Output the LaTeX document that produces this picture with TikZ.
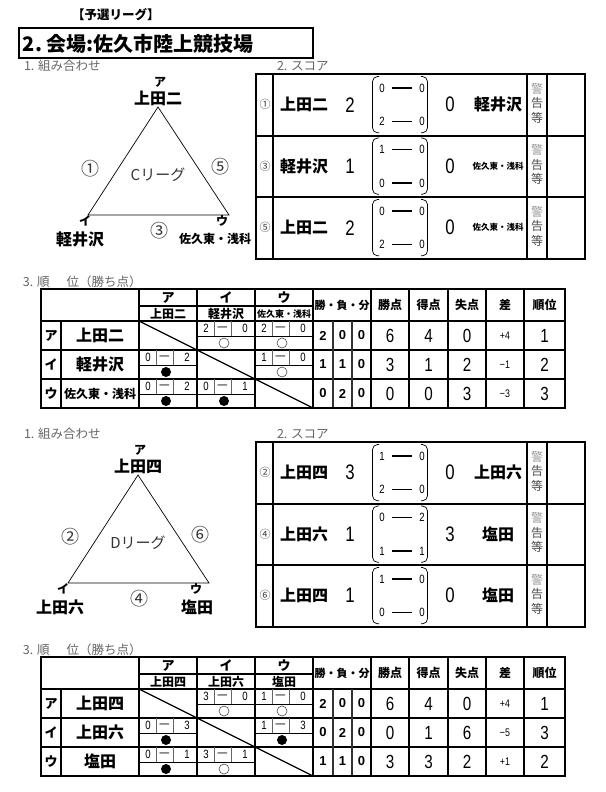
\documentclass[tikz,border=0pt]{standalone}
\usepackage{fontspec}
\setmainfont{Noto Sans CJK JP}
\newfontfamily\nar{Liberation Sans}[FakeStretch=0.8]
\newfontfamily\lib{Liberation Sans}
\newcommand\fs[1]{\fontsize{#1}{#1}\selectfont}
\tikzset{
  every node/.style={inner sep=0pt, outer sep=0pt},
  lbl/.style={anchor=west, font=\fs{12.5}, text=black!60},
  kana/.style={font=\fs{12}\bfseries},
  tname/.style={font=\fs{16}\bfseries},
  tsmall/.style={font=\fs{12}\bfseries},
  cnum/.style={font=\fs{18}, text=black!80},
  lg/.style={font=\fs{15}, text=black!80},
  triline/.style={line width=0.7},
  frame2/.style={line width=2},
  inline/.style={line width=1.5},
  rnum/.style={font=\fs{11}, text=black!75},
  sname/.style={font=\fs{16}\bfseries},
  sname8/.style={font=\fs{8.5}\bfseries},
  bigd/.style={font=\nar\fs{21}},
  smd/.style={font=\nar\fs{12}},
  warn/.style={font=\fs{12}, text=black!70},
  brk/.style={line width=0.7, rounded corners=5pt},
  dashbar/.style={line width=1.8},
  hd/.style={font=\fs{12}\bfseries},
  hdw/.style={font=\fs{11}\bfseries},
  hdk/.style={font=\fs{13}\bfseries},
  hds/.style={font=\fs{9}\bfseries},
  cs/.style={font=\nar\fs{12}},
  mkw/.style={circle, draw=black!70, line width=0.6, minimum size=10pt},
  mkl/.style={circle, fill=black, minimum size=10pt},
  wld/.style={font=\lib\bfseries\fs{13}},
  stat/.style={font=\nar\fs{19}},
  diffs/.style={font=\nar\fs{11}},
}
\newcommand\ScoreGrid{%
  \draw[frame2] (256,74) rectangle (585,259);
  \draw[frame2] (256,135.5) -- (585,135.5) (256,197) -- (585,197);
  \draw[frame2] (273,74) -- (273,259) (527,74) -- (527,259) (547,74) -- (547,259);
}
\newcommand\ScoreRow[8]{%
  \node[rnum] (#1-n) at (265,#2+30.7) {#3};
  \node[sname] (#1-a) at (304,#2+30.7) {#4};
  \node[bigd] (#1-sa) at (350,#2+30.7) {#5};
  \node[bigd] (#1-sb) at (450,#2+30.7) {#6};
  \node[#8] (#1-b) at (498,#2+30.7) {#7};
  \node[warn, text=black!40] (#1-w1) at (537,#2+14.5) {警};
  \node[warn] (#1-w2) at (537,#2+29) {告};
  \node[warn] (#1-w3) at (537,#2+43.5) {等};
}
\newcommand\Bracket[6]{%
  \draw[brk] (379,#2+2.5) -- (372.5,#2+2.5) -- (372.5,#2+58.8) -- (379,#2+58.8);
  \draw[brk] (421,#2+2.5) -- (427.5,#2+2.5) -- (427.5,#2+58.8) -- (421,#2+58.8);
  \node[smd] (#1-p) at (382,#2+14) {#3};
  \node[smd] (#1-q) at (422,#2+14) {#4};
  \node[smd] (#1-r) at (382,#2+47.5) {#5};
  \node[smd] (#1-s) at (422,#2+47.5) {#6};
  \draw[dashbar] ([xshift=10pt]#1-p.center) -- ([xshift=-10pt]#1-q.center);
  \draw[dashbar] ([xshift=10pt]#1-r.center) -- ([xshift=-10pt]#1-s.center);
}
\newcommand\StandGrid{%
  \draw[inline] (139,306) -- (313,306);
  \draw[inline] (41,321) -- (565,321) (41,350) -- (565,350) (41,379) -- (565,379);
  \draw[inline] (61,321) -- (61,408);
  \foreach \x in {139,197,255,313,371,409,448,486,524} \draw[inline] (\x,289) -- (\x,408);
  \foreach \x in {333,352} \draw[line width=1.2, black!80] (\x,321) -- (\x,408);
  \draw[line width=2.2] (41,289) rectangle (565,408);
  \draw[line width=1.3] (139,321) -- (313,408);
}
\newcommand\StandCell[6]{%
  \draw[line width=0.8] (#2,#3+15) -- (#2+58,#3+15);
  \draw[line width=0.5, black!60] (#2+17,#3) -- (#2+17,#3+15) (#2+34,#3) -- (#2+34,#3+15);
  \node[cs] (#1-a) at (#2+9,#3+7.5) {#4};
  \node[cs] (#1-d) at (#2+25.5,#3+7.5) {—};
  \node[cs] (#1-b) at (#2+48,#3+7.5) {#5};
  \node[mk#6] (#1-m) at (#2+27,#3+22) {};
}
\newcommand\StandValues[2]{%
  \foreach \i/\t/\w/\l/\d/\p/\f/\a/\s/\k in {#2} {
    \node[wld] (#1-wv\i) at (323,\t) {\w};
    \node[wld] (#1-lv\i) at (342.5,\t) {\l};
    \node[wld] (#1-dv\i) at (361.5,\t) {\d};
    \node[stat] (#1-pt\i) at (390,\t) {\p};
    \node[stat] (#1-gf\i) at (428.5,\t) {\f};
    \node[stat] (#1-ga\i) at (467,\t) {\a};
    \node[diffs] (#1-df\i) at (505,\t) {\s};
    \node[stat] (#1-rk\i) at (544.5,\t) {\k};
  }
}
\newcommand\StandHead[1]{%
  \node[hdw] (#1-h1) at (342,305) {勝・負・分};
  \node[hd] (#1-h2) at (390,305) {勝点};
  \node[hd] (#1-h3) at (428.5,305) {得点};
  \node[hd] (#1-h4) at (467,305) {失点};
  \node[hd] (#1-h5) at (505,305) {差};
  \node[hd] (#1-h6) at (544.5,305) {順位};
  \node[hdk] (#1-hA) at (168,297.5) {ア};
  \node[hdk] (#1-hB) at (226,297.5) {イ};
  \node[hdk] (#1-hC) at (284,297.5) {ウ};
  \node[hdk] (#1-r1k) at (51,335.5) {ア};
  \node[hdk] (#1-r2k) at (51,364.5) {イ};
  \node[hdk] (#1-r3k) at (51,393.5) {ウ};
  \node[lbl] (#1-lab1) at (24,66) {1. 組み合わせ};
  \node[lbl] (#1-lab2) at (277,66) {2. スコア};
  \node[lbl] (#1-lab3) at (23,282) {3. 順\hspace{17pt}位（勝ち点）};
}
\begin{document}
\begin{tikzpicture}[x=1pt,y=-1pt]
\useasboundingbox (0,0) rectangle (605,792);
\fill[white] (0,0) rectangle (605,792);
% title
\node[font=\fs{12.5}\bfseries, anchor=west] (hdr) at (72,15) {【予選リーグ】};
\draw[line width=2] (19,28) rectangle (313,58);
\node[font=\fs{20}\bfseries, anchor=west] (title) at (23,43.5) {2.\ 会場:佐久市陸上競技場};

% ===== C league =====
\StandHead{c}
\coordinate (c-ta) at (158,107);
\coordinate (c-tb) at (88,215);
\coordinate (c-tc) at (229,215);
\draw[triline] (c-ta) -- (c-tb) -- (c-tc) -- cycle;
\node[kana] (c-ka) at (160,82) {ア};
\node[tname] (c-na) at (158,98) {上田二};
\node[cnum] (c-e1) at (90,169) {①};
\node[cnum] (c-e5) at (220,167) {⑤};
\node[lg] (c-lg) at (158,175) {Cリーグ};
\node[kana] (c-kb) at (85,221) {イ};
\node[tname] (c-nb) at (80,239) {軽井沢};
\node[cnum] (c-e3) at (159,231) {③};
\node[kana] (c-kc) at (222,221) {ウ};
\node[tsmall] (c-nc) at (215,239) {佐久東・浅科};

\ScoreGrid
\ScoreRow{c1}{74}{①}{上田二}{2}{0}{軽井沢}{sname}
\Bracket{c1}{74}{0}{0}{2}{0}
\ScoreRow{c2}{135.5}{③}{軽井沢}{1}{0}{佐久東・浅科}{sname8}
\Bracket{c2}{135.5}{1}{0}{0}{0}
\ScoreRow{c3}{197}{⑤}{上田二}{2}{0}{佐久東・浅科}{sname8}
\Bracket{c3}{197}{0}{0}{2}{0}

\StandGrid
\node[hd] (c-hAn) at (168,314) {上田二};
\node[hd] (c-hBn) at (226,314) {軽井沢};
\node[hds] (c-hCn) at (284,314) {佐久東・浅科};
\node[tname] (c-r1n) at (100,335.5) {上田二};
\node[tname] (c-r2n) at (100,364.5) {軽井沢};
\node[tsmall] (c-r3n) at (100,393.5) {佐久東・浅科};
\StandCell{c-12}{197}{321}{2}{0}{w}
\StandCell{c-13}{255}{321}{2}{0}{w}
\StandCell{c-21}{139}{350}{0}{2}{l}
\StandCell{c-23}{255}{350}{1}{0}{w}
\StandCell{c-31}{139}{379}{0}{2}{l}
\StandCell{c-32}{197}{379}{0}{1}{l}
\StandValues{c}{1/335.5/2/0/0/6/4/0/+4/1, 2/364.5/1/1/0/3/1/2/−1/2, 3/393.5/0/2/0/0/0/3/−3/3}

% ===== D league =====
\begin{scope}[yshift=-368pt]
\StandHead{d}
\coordinate (d-ta) at (138,107);
\coordinate (d-tb) at (68,215);
\coordinate (d-tc) at (209,215);
\draw[triline] (d-ta) -- (d-tb) -- (d-tc) -- cycle;
\node[kana] (d-ka) at (140,82) {ア};
\node[tname] (d-na) at (138,98) {上田四};
\node[cnum] (d-e2) at (70,169) {②};
\node[cnum] (d-e6) at (200,167) {⑥};
\node[lg] (d-lg) at (138,175) {Dリーグ};
\node[kana] (d-kb) at (63,221) {イ};
\node[tname] (d-nb) at (60,239) {上田六};
\node[cnum] (d-e4) at (139,231) {④};
\node[kana] (d-kc) at (196,221) {ウ};
\node[tname] (d-nc) at (197,239) {塩田};

\ScoreGrid
\ScoreRow{d1}{74}{②}{上田四}{3}{0}{上田六}{sname}
\Bracket{d1}{74}{1}{0}{2}{0}
\ScoreRow{d2}{135.5}{④}{上田六}{1}{3}{塩田}{sname}
\Bracket{d2}{135.5}{0}{2}{1}{1}
\ScoreRow{d3}{197}{⑥}{上田四}{1}{0}{塩田}{sname}
\Bracket{d3}{197}{1}{0}{0}{0}

\StandGrid
\node[hd] (d-hAn) at (168,314) {上田四};
\node[hd] (d-hBn) at (226,314) {上田六};
\node[hd] (d-hCn) at (284,314) {塩田};
\node[tname] (d-r1n) at (100,335.5) {上田四};
\node[tname] (d-r2n) at (100,364.5) {上田六};
\node[tname] (d-r3n) at (100,393.5) {塩田};
\StandCell{d-12}{197}{321}{3}{0}{w}
\StandCell{d-13}{255}{321}{1}{0}{w}
\StandCell{d-21}{139}{350}{0}{3}{l}
\StandCell{d-23}{255}{350}{1}{3}{l}
\StandCell{d-31}{139}{379}{0}{1}{l}
\StandCell{d-32}{197}{379}{3}{1}{w}
\StandValues{d}{1/335.5/2/0/0/6/4/0/+4/1, 2/364.5/0/2/0/0/1/6/−5/3, 3/393.5/1/1/0/3/3/2/+1/2}
\end{scope}
\end{tikzpicture}
\end{document}
